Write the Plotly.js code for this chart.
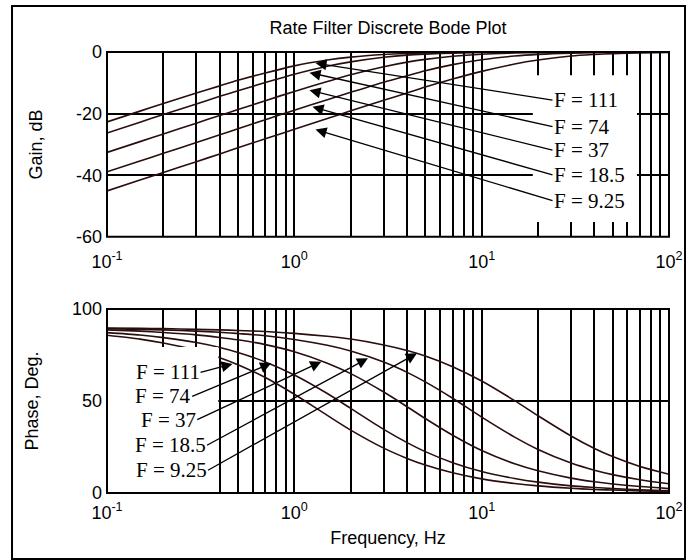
<!DOCTYPE html>
<html><head><meta charset="utf-8">
<script src="https://cdn.plot.ly/plotly-3.0.1.min.js"></script>
<style>html,body{margin:0;padding:0;background:#fff}#chart{width:686px;height:560px}</style>
</head><body><div id="chart"></div>
<script>
const freqHz = [0.1,0.15,0.2,0.3,0.4,0.5,0.7,1,1.5,2,3,4,5,7,10,15,20,30,40,50,70,100];
const seriesNames = ['F = 111','F = 74','F = 37','F = 18.5','F = 9.25'];

// Gain, dB
const gainF111  = [-22.7,-19.2,-16.7,-13.3,-11.0,-9.2,-6.8,-4.5,-2.6,-1.65,-0.81,-0.48,-0.31,-0.16,-0.08,-0.04,-0.02,-0.01,-0.01,0,0,0];
const gainF74   = [-26.3,-22.8,-20.3,-16.9,-14.4,-12.6,-9.9,-7.2,-4.6,-3.2,-1.7,-1.0,-0.69,-0.36,-0.18,-0.08,-0.05,-0.02,-0.01,-0.01,0,0];
const gainF37   = [-32.6,-29.1,-26.6,-23.1,-20.6,-18.7,-15.8,-12.8,-9.6,-7.4,-4.8,-3.3,-2.4,-1.4,-0.73,-0.34,-0.19,-0.09,-0.05,-0.03,-0.02,-0.01];
const gainF18_5 = [-38.9,-35.4,-32.9,-29.4,-26.9,-24.9,-22.0,-18.9,-15.5,-13.1,-9.8,-7.7,-6.1,-4.1,-2.5,-1.3,-0.77,-0.36,-0.21,-0.13,-0.07,-0.03];
const gainF9_25 = [-45.1,-41.6,-39.1,-35.6,-33.1,-31.1,-28.2,-25.1,-21.6,-19.1,-15.7,-13.3,-11.4,-8.8,-6.3,-3.9,-2.6,-1.3,-0.80,-0.53,-0.28,-0.14];

// Phase, deg
const phaseF111  = [85.8,83.7,81.6,77.6,73.6,69.8,62.8,53.7,42.2,34.2,24.4,18.8,15.2,11.0,7.7,5.2,3.9,2.6,1.9,1.6,1.1,0.8];
const phaseF74   = [87.2,85.9,84.5,81.8,79.1,76.4,71.3,64.2,54.1,46.0,34.6,27.4,22.5,16.5,11.7,7.9,5.9,3.9,3.0,2.4,1.7,1.2];
const phaseF37   = [88.7,88.0,87.3,86.0,84.6,83.3,80.7,76.8,70.6,64.9,54.9,46.9,40.5,31.4,23.1,15.9,12.1,8.1,6.1,4.9,3.5,2.4];
const phaseF18_5 = [89.4,89.0,88.7,88.0,87.4,86.7,85.5,83.5,80.3,77.2,71.2,65.6,60.4,51.5,41.3,30.4,23.7,16.3,12.4,10.0,7.2,5.0];
const phaseF9_25 = [89.7,89.5,89.4,89.0,88.7,88.4,87.8,86.8,85.2,83.7,80.5,77.5,74.5,68.7,60.9,50.2,42.0,31.0,24.2,19.8,14.4,10.2];

// Axis ticks
const decadeVals = [0.1,1,10,100];
const decadeText = ['10<sup>-1</sup>','10<sup>0</sup>','10<sup>1</sup>','10<sup>2</sup>'];
const gridMultiples = [2,3,4,5,6,7,8,9];
const gainTickVals = [-60,-40,-20,0];
const gainTickText = ['-60','-40','-20','0'];
const phaseTickVals = [0,50,100];
const phaseTickText = ['0','50','100'];

// Label arrow heads (log10 freq, value) and label offsets
const gainArrowX = [0.113,0.081,0.081,0.097,0.113];
const gainArrowY = [-3.6,-6.7,-12.4,-17.8,-25.2];
const phaseArrowX = [-0.330,-0.1235,0.1438,0.393,0.6547];
const phaseArrowY = [70.2,70.5,71.4,73.3,76.0];

// ---- build ----
const minorVals = [];
[0.1,1,10].forEach(d => gridMultiples.forEach(m => minorVals.push(+(d*m).toPrecision(3))));

const gains = [gainF111,gainF74,gainF37,gainF18_5,gainF9_25];
const phases = [phaseF111,phaseF74,phaseF37,phaseF18_5,phaseF9_25];
const curveColor = '#2a0d0d';
const traces = [];
gains.forEach((g,i) => traces.push({x:freqHz,y:g,type:'scatter',mode:'lines',name:seriesNames[i],
  xaxis:'x',yaxis:'y',line:{color:curveColor,width:1.6,shape:'spline',smoothing:0.8},hoverinfo:'skip'}));
phases.forEach((p,i) => traces.push({x:freqHz,y:p,type:'scatter',mode:'lines',name:seriesNames[i],
  xaxis:'x2',yaxis:'y2',line:{color:curveColor,width:1.6,shape:'spline',smoothing:0.8},hoverinfo:'skip'}));

const serif = '"Liberation Serif","Times New Roman",serif';
const gainAx = [237,243,243,240,237], gainAy = [37,54,60,68,71];
const phaseAx = [-32,-79,-124,-161,-209], phaseAy = [8.4,33,58,87,117];
const annotations = [];
seriesNames.forEach((n,i) => {
  annotations.push({xref:'x',yref:'y',x:gainArrowX[i],y:gainArrowY[i],text:n,showarrow:true,
    ax:gainAx[i],ay:gainAy[i],xanchor:'left',yanchor:'middle',arrowhead:2,arrowsize:1.7,arrowwidth:1.3,
    arrowcolor:'#000',font:{family:serif,size:21,color:'#000'},borderpad:0});
  annotations.push({xref:'x2',yref:'y2',x:phaseArrowX[i],y:phaseArrowY[i],text:n,showarrow:true,
    ax:phaseAx[i],ay:phaseAy[i],xanchor:'right',yanchor:'middle',arrowhead:2,arrowsize:1.7,arrowwidth:1.3,
    arrowcolor:'#000',font:{family:serif,size:21,color:'#000'},borderpad:0});
});

const shapes = [
  {type:'rect',xref:'x domain',yref:'y domain',x0:0.7577,x1:0.943,y0:0.0795,y1:0.874,fillcolor:'#fff',line:{width:0},layer:'above'},
  {type:'rect',xref:'x2 domain',yref:'y2 domain',x0:0.0,x1:0.198,y0:0.0,y1:0.794,fillcolor:'#fff',line:{width:0},layer:'above'},
  {type:'rect',xref:'x domain',yref:'y domain',x0:0,x1:1,y0:0,y1:1,line:{color:'#000',width:2},layer:'above'},
  {type:'rect',xref:'x2 domain',yref:'y2 domain',x0:0,x1:1,y0:0,y1:1,line:{color:'#000',width:2},layer:'above'},
  {type:'rect',xref:'paper',yref:'paper',x0:-0.169,x1:1.0285,y0:-0.1497,y1:1.1043,line:{color:'#000',width:2},layer:'above'}
];

const xBase = {type:'log',range:[-1,2],tickmode:'array',tickvals:decadeVals,ticktext:decadeText,showgrid:true,gridcolor:'#000',
  gridwidth:2,ticks:'',showline:false,zeroline:false,tickfont:{size:18},
  minor:{tickmode:'array',tickvals:minorVals,showgrid:true,gridcolor:'#000',gridwidth:2,ticks:''}};
const yBase = {showgrid:true,gridcolor:'#000',gridwidth:2,ticks:'',showline:false,zeroline:false,
  tickfont:{size:18},ticklabelstandoff:4,tickmode:'array'};

const layout = {
  width:686,height:560,
  margin:{l:107,r:17,t:52,b:67},
  paper_bgcolor:'#fff',plot_bgcolor:'#fff',showlegend:false,
  font:{family:'"Liberation Sans",Arial,sans-serif',size:18,color:'#000'},
  title:{text:'Rate Filter Discrete Bode Plot',x:0.5,xref:'paper',xanchor:'center',y:1-28/560,yref:'container',yanchor:'middle',font:{size:18,color:'#000'}},
  xaxis:Object.assign({},xBase,{domain:[0,1],anchor:'y',ticklabelstandoff:12}),
  yaxis:Object.assign({},yBase,{range:[-60,0],domain:[0.581,1],anchor:'x',tickvals:gainTickVals,ticktext:gainTickText,title:{text:'Gain, dB',standoff:28,font:{size:18}}}),
  xaxis2:Object.assign({},xBase,{domain:[0,1],anchor:'y2',ticklabelstandoff:7,title:{text:'Frequency, Hz',standoff:9,font:{size:18}}}),
  yaxis2:Object.assign({},yBase,{range:[0,100],domain:[0,0.417],anchor:'x2',tickvals:phaseTickVals,ticktext:phaseTickText,title:{text:'Phase, Deg.',standoff:28,font:{size:18}}}),
  shapes:shapes,annotations:annotations
};
Plotly.newPlot('chart',traces,layout,{displayModeBar:false,staticPlot:true});
</script></body></html>
